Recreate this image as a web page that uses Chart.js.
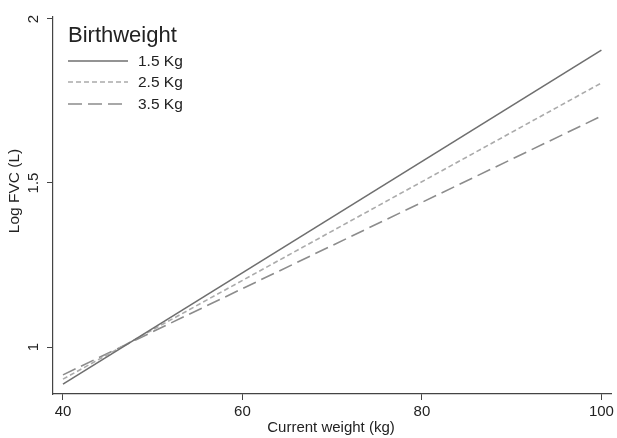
<!DOCTYPE html>
<html>
<head>
<meta charset="utf-8">
<script src="https://cdn.jsdelivr.net/npm/chart.js@4"></script>
<style>
html,body{margin:0;padding:0;background:#fff;}
#wrap{width:617px;height:438px;}
</style>
</head>
<body>
<div id="wrap"><canvas id="c" width="617" height="438"></canvas></div>
<script>
const weights = [40, 100];
const bw15 = [0.887, 1.905];
const bw25 = [0.902, 1.805];
const bw35 = [0.915, 1.704];
const seriesLabels = ['1.5 Kg', '2.5 Kg', '3.5 Kg'];
const xTicks = [40, 60, 80, 100];
const yTicks = [1, 1.5, 2];
const yTickLabels = ['1', '1.5', '2'];
const legendTitle = 'Birthweight';
const xTitle = 'Current weight (kg)';
const yTitle = 'Log FVC (L)';

const FONT = '"Liberation Sans", Arial, sans-serif';
const TXT = '#222';

function pts(ys){ return weights.map((w,i)=>({x:w, y:ys[i]})); }

const customDraw = {
  id: 'customDraw',
  afterDraw(chart){
    const ctx = chart.ctx;
    const ys = chart.scales.y;
    // y tick labels rotated
    ctx.save();
    ctx.fillStyle = TXT;
    ctx.font = '15px ' + FONT;
    ctx.textAlign = 'center';
    ctx.textBaseline = 'middle';
    yTicks.forEach((v,i)=>{
      const py = ys.getPixelForValue(v);
      ctx.save();
      ctx.translate(34, py);
      ctx.rotate(-Math.PI/2);
      ctx.fillText(yTickLabels[i], 0, 0);
      ctx.restore();
    });
    // y title
    ctx.save();
    ctx.translate(15, 191);
    ctx.rotate(-Math.PI/2);
    ctx.font = '15.5px ' + FONT;
    ctx.fillText(yTitle, 0, 0);
    ctx.restore();
    // x title
    ctx.font = '15px ' + FONT;
    ctx.fillText(xTitle, 331, 428);
    // legend
    ctx.textAlign = 'left';
    ctx.textBaseline = 'alphabetic';
    ctx.font = '22px ' + FONT;
    ctx.fillText(legendTitle, 68, 42);
    ctx.font = '15.5px ' + FONT;
    ctx.textBaseline = 'middle';
    const rowY = [61, 82, 104];
    chart.data.datasets.forEach((ds,i)=>{
      ctx.save();
      ctx.strokeStyle = ds.borderColor;
      ctx.lineWidth = ds.borderWidth;
      ctx.setLineDash(ds.borderDash || []);
      ctx.beginPath();
      ctx.moveTo(68, rowY[i]);
      ctx.lineTo(128, rowY[i]);
      ctx.stroke();
      ctx.restore();
      ctx.fillStyle = TXT;
      ctx.fillText(ds.label, 138, rowY[i] + 1);
    });
    ctx.restore();
  }
};

new Chart(document.getElementById('c'), {
  type: 'line',
  data: {
    datasets: [
      {label: seriesLabels[0], data: pts(bw15), borderColor: '#6f6f6f', borderWidth: 1.6, borderDash: [], pointRadius: 0, tension: 0},
      {label: seriesLabels[1], data: pts(bw25), borderColor: '#ababab', borderWidth: 1.6, borderDash: [5, 3], pointRadius: 0, tension: 0},
      {label: seriesLabels[2], data: pts(bw35), borderColor: '#8c8c8c', borderWidth: 1.6, borderDash: [14, 6], pointRadius: 0, tension: 0}
    ]
  },
  options: {
    responsive: false,
    animation: false,
    devicePixelRatio: 1,
    layout: {padding: {left: 0, right: 4, top: 17, bottom: 0}},
    plugins: {legend: {display: false}, tooltip: {enabled: false}, title: {display: false}},
    scales: {
      x: {
        type: 'linear',
        min: 40 - 10/9,
        max: 100 + 10/9,
        afterBuildTicks: s => { s.ticks = xTicks.map(v => ({value: v})); },
        afterFit: s => { s.height = 44; },
        ticks: {
          autoSkip: false, maxRotation: 0, minRotation: 0,
          color: TXT, font: {family: FONT, size: 15}, padding: 3,
          callback: v => String(v)
        },
        grid: {display: true, drawOnChartArea: false, drawTicks: true, tickLength: 6, color: '#444', lineWidth: 1},
        border: {display: true, color: '#444', width: 1.2}
      },
      y: {
        type: 'linear',
        min: 1 - 47/328,
        max: 2 + 2/328,
        afterBuildTicks: s => { s.ticks = yTicks.map(v => ({value: v})); },
        afterFit: s => { s.width = 53; },
        ticks: {display: false},
        grid: {display: true, drawOnChartArea: false, drawTicks: true, tickLength: 6, color: '#444', lineWidth: 1},
        border: {display: true, color: '#444', width: 1.2}
      }
    }
  },
  plugins: [customDraw]
});
</script>
</body>
</html>
